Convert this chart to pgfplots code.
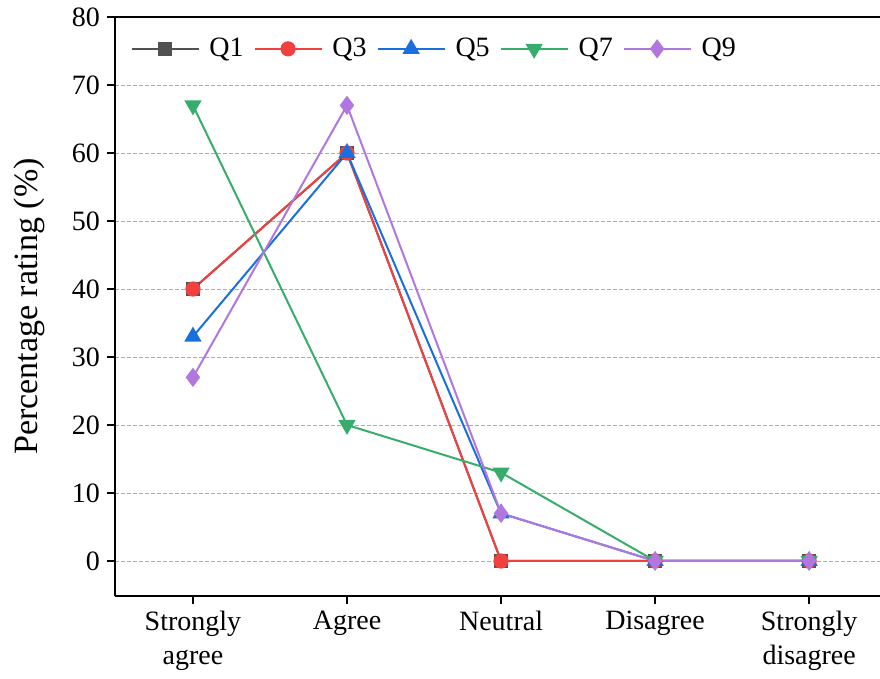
\documentclass[border=0pt]{standalone}
\usepackage{pgfplots}
\pgfplotsset{compat=1.18}
\usepackage{fontspec}
\setmainfont{Liberation Serif}
\usetikzlibrary{calc}
\definecolor{cQ1}{HTML}{515151}
\definecolor{cQ3}{HTML}{F14040}
\definecolor{cQ5}{HTML}{1A6FDF}
\definecolor{cQ7}{HTML}{37AD6B}
\definecolor{cQ9}{HTML}{B177DE}
\begin{document}
\begin{tikzpicture}
\begin{axis}[
  name=ax,
  width=382.5pt, height=289.5pt,
  scale only axis,
  xmin=-0.506, xmax=4.46,
  ymin=-5.15, ymax=80,
  axis x line*=box, axis y line*=left,
  axis line style={-, line width=1pt, black},
  xtick={0,1,2,3,4},
  xticklabels={{Strongly\\agree},{Agree},{Neutral},{Disagree},{Strongly\\disagree}},
  xticklabel style={align=center, font=\fontsize{14}{17}\selectfont},
  ytick={0,10,...,80},
  yticklabel style={font=\fontsize{14}{17}\selectfont},
  /pgf/number format/assume math mode=true,
  xtick pos=bottom, ytick pos=left,
  tick align=outside,
  major tick length=4pt,
  tick style={line width=0.9pt, black},
  ymajorgrids,
  grid style={gray!65, dash pattern=on 2pt off 1pt, line width=0.4pt},
  ylabel={Percentage rating (\%)},
  every axis y label/.style={at={(rel axis cs:-0.112,0.5)}, rotate=90, anchor=center,
    font=\fontsize{17}{20}\selectfont},
  legend style={draw=none, fill=none, at={(0.012,0.945)}, anchor=west,
    font=\fontsize{14}{17}\selectfont, column sep=3.75pt, nodes={inner sep=1.2pt}},
  legend columns=5,
  legend image code/.code={
    \draw[mark repeat=2, mark phase=2] plot coordinates {(0pt,0pt) (16.75pt,0pt) (33.5pt,0pt)};
  },
  every axis plot/.append style={line width=1pt},
]
\addplot[color=cQ1, mark=square*, mark size=3pt] coordinates {(0,40) (1,60) (2,0) (3,0) (4,0)};
\addlegendentry{Q1}
\addplot[color=cQ3, mark=*, mark size=3.3pt] coordinates {(0,40) (1,60) (2,0) (3,0) (4,0)};
\addlegendentry{Q3}
\addplot[color=cQ5, mark=triangle*, mark size=4pt] coordinates {(0,33) (1,60) (2,7) (3,0) (4,0)};
\addlegendentry{Q5}
\addplot[color=cQ7, mark=triangle*, mark size=4pt, mark options={rotate=180}] coordinates {(0,67) (1,20) (2,13) (3,0) (4,0)};
\addlegendentry{Q7}
\addplot[color=cQ9, mark=diamond*, mark size=4pt] coordinates {(0,27) (1,67) (2,7) (3,0) (4,0)};
\addlegendentry{Q9}
\end{axis}
\pgfresetboundingbox
\path ($(ax.south west)+(-57.5pt,-41pt)$) rectangle ($(ax.north east)+(0pt,8.5pt)$);
\end{tikzpicture}
\end{document}
